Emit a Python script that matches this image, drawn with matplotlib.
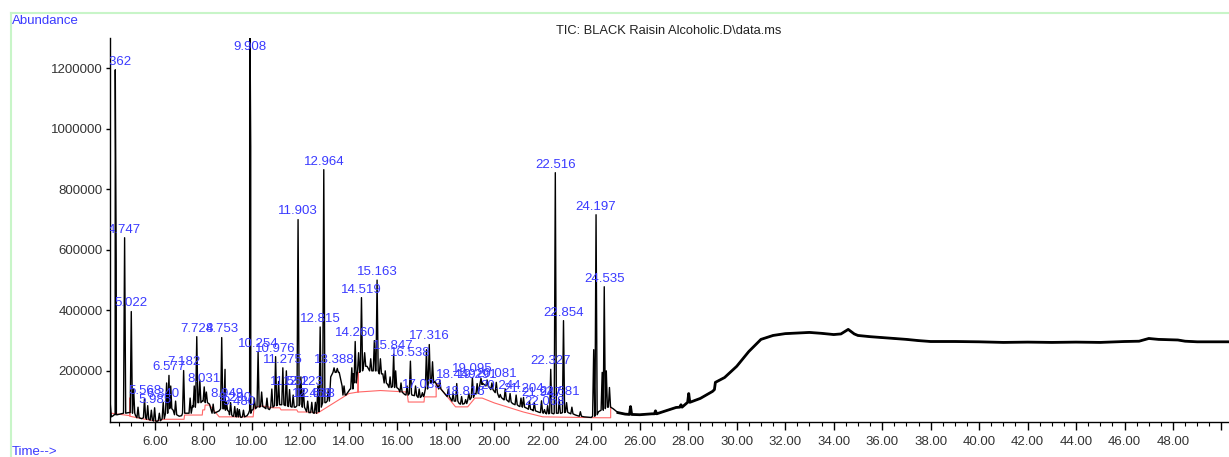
import numpy as np
import matplotlib
matplotlib.use('Agg')
import matplotlib.pyplot as plt
from matplotlib.ticker import MultipleLocator, FuncFormatter, FormatStrFormatter

plt.rcParams['font.family'] = ['Liberation Sans', 'DejaVu Sans']

title = 'TIC: BLACK Raisin Alcoholic.D\\data.ms'

# labelled peaks: retention time, apex abundance, level at the foot
peak_rt = [4.362, 4.747, 5.022, 5.568, 5.985, 6.340, 6.577, 7.182, 7.724, 8.031,
           8.753, 8.949, 9.290, 9.480, 9.908, 10.254, 10.976, 11.275, 11.552, 11.903,
           12.123, 12.469, 12.618, 12.815, 12.964, 13.388, 14.260, 14.519, 15.163, 15.847,
           16.538, 17.033, 17.316, 18.449, 18.816, 19.095, 19.291, 20.081, 20.244, 21.204,
           21.947, 22.068, 22.327, 22.516, 22.681, 22.854, 24.197, 24.535]
peak_top = [1195000, 640000, 396000, 108000, 78000, 96000, 185000, 201000, 313000, 147000,
            310000, 96000, 82000, 72000, 1500000, 262000, 247000, 210000, 138000, 700000,
            138000, 96000, 96000, 345000, 865000, 210000, 297000, 442000, 500000, 255000,
            232000, 128000, 287000, 158000, 105000, 178000, 158000, 162000, 122000, 112000,
            101000, 72000, 205000, 855000, 105000, 366000, 716000, 478000]
peak_foot = [55000, 60000, 62000, 45000, 34000, 42000, 80000, 60000, 95000, 100000,
             75000, 70000, 50000, 48000, 60000, 80000, 85000, 88000, 82000, 85000,
             80000, 62000, 60000, 80000, 95000, 195000, 160000, 200000, 200000, 150000,
             125000, 115000, 160000, 100000, 92000, 112000, 125000, 128000, 112000, 80000,
             62000, 60000, 60000, 60000, 60000, 62000, 55000, 75000]

# unlabelled small peaks
minor_rt = [4.40, 5.12, 5.30, 5.70, 5.85, 6.18, 6.48, 6.65, 6.85, 7.45, 7.62, 7.85,
            8.12, 8.40, 8.89, 9.12, 9.40, 9.65, 9.95, 10.10, 10.40, 10.62, 10.82, 11.10,
            11.42, 11.70, 12.02, 12.30, 12.72, 13.15, 13.52, 13.80, 14.12, 14.40, 14.65,
            14.90, 15.05, 15.30, 15.50, 15.70, 15.93, 16.15, 16.40, 16.75, 16.90, 17.20,
            17.45, 17.75, 18.10, 18.30, 18.65, 18.95, 19.45, 19.70, 19.90, 20.45, 20.65,
            20.90, 21.10, 21.45, 21.65, 22.20, 22.98, 23.20, 23.55, 24.10, 24.45, 24.62,
            24.75, 25.62, 26.65, 27.70, 28.02]
minor_top = [560000, 140000, 80000, 85000, 70000, 60000, 160000, 150000, 100000, 110000,
             150000, 170000, 130000, 90000, 205000, 95000, 75000, 70000, 940000, 110000,
             130000, 110000, 140000, 165000, 200000, 120000, 180000, 100000, 150000, 140000,
             208000, 150000, 210000, 260000, 260000, 240000, 300000, 240000, 200000, 180000,
             200000, 160000, 150000, 150000, 140000, 270000, 230000, 170000, 140000, 125000,
             115000, 125000, 175000, 170000, 160000, 140000, 125000, 120000, 110000, 100000,
             95000, 85000, 95000, 80000, 65000, 270000, 195000, 200000, 145000, 82000,
             68000, 88000, 125000]
minor_foot = [55000, 60000, 45000, 40000, 37000, 35000, 60000, 75000, 55000, 60000,
              80000, 95000, 95000, 60000, 75000, 55000, 48000, 48000, 70000, 75000,
              82000, 75000, 80000, 88000, 85000, 80000, 90000, 65000, 65000, 100000,
              195000, 120000, 140000, 195000, 215000, 200000, 200000, 190000, 160000, 145000,
              145000, 130000, 120000, 118000, 112000, 140000, 160000, 140000, 115000, 100000,
              90000, 105000, 155000, 150000, 138000, 105000, 97000, 88000, 82000, 73000,
              68000, 58000, 64000, 58000, 50000, 50000, 70000, 80000, 80000, 56000,
              58000, 80000, 96000]

# slow background of the trace
env_t = [4.144, 4.20, 4.28, 4.60, 4.90, 5.20, 5.45, 5.95, 6.08, 6.30, 6.75, 7.00, 7.10,
         7.35, 7.55, 7.95, 8.25, 8.50, 8.65, 9.05, 9.20, 9.55, 9.80, 10.05, 10.50, 10.72,
         11.00, 11.40, 11.80, 12.05, 12.35, 12.55, 12.70, 13.05, 13.25, 13.60, 13.72, 13.88,
         14.05, 14.18, 14.35, 14.75, 14.95, 15.40, 15.60, 15.80, 16.05, 16.30, 16.60, 16.85,
         17.10, 17.55, 17.70, 18.00, 18.25, 18.55, 18.90, 19.20, 19.50, 19.80, 20.15, 20.40,
         20.75, 21.00, 21.35, 21.60, 21.85, 22.15, 22.45, 22.75, 23.05, 23.35, 23.70, 24.00,
         24.30, 24.90, 25.10, 25.40, 26.00, 26.50, 27.00, 27.50, 28.20, 28.50, 29.00, 29.08,
         29.12, 29.50, 30.00, 30.50, 31.00, 31.50, 32.00, 32.50, 33.00, 33.50, 34.00, 34.30,
         34.60, 34.85, 35.00, 35.50, 36.00, 36.50, 37.00, 37.50, 38.00, 39.00, 40.00, 41.00,
         42.00, 43.00, 44.00, 45.00, 46.00, 46.60, 47.00, 47.40, 47.80, 48.20, 48.50, 49.00,
         50.31]
env_y = [102000, 48000, 52000, 58000, 62000, 52000, 42000, 35000, 33000, 42000, 70000, 50000, 52000,
         60000, 85000, 100000, 90000, 62000, 68000, 65000, 50000, 46000, 52000, 72000, 80000, 72000,
         84000, 85000, 80000, 85000, 62000, 60000, 66000, 95000, 180000, 195000, 150000, 120000,
         140000, 190000, 195000, 215000, 200000, 190000, 155000, 148000, 140000, 122000, 120000, 112000,
         118000, 165000, 142000, 120000, 100000, 92000, 102000, 125000, 160000, 145000, 122000, 104000,
         92000, 84000, 76000, 70000, 63000, 58000, 58000, 60000, 62000, 54000, 48000, 46000,
         65000, 75000, 62000, 57000, 55000, 58000, 66000, 79000, 100000, 109000, 132000, 138000,
         162000, 178000, 215000, 264000, 304000, 317000, 323000, 325000, 327000, 324000, 320000, 322000,
         337000, 322000, 317000, 313000, 310000, 307000, 304000, 300000, 297000, 297000, 296000, 294000,
         295000, 294000, 295000, 294000, 297000, 298000, 307000, 304000, 303000, 302000, 298000, 296000,
         296000]

# red integration baseline
base_t = [4.20, 4.96, 4.96, 4.96, 5.60, 6.05, 6.35, 7.20, 7.22, 7.95, 7.97, 8.05, 8.07, 8.25,
          8.65, 10.05, 10.07, 10.10, 10.45, 10.85, 11.15, 11.20, 11.85, 11.90, 12.45, 12.70,
          14.00, 14.38, 14.38, 14.38, 15.30, 16.40, 16.45, 17.10, 17.12, 17.60, 17.60, 18.40,
          18.90, 19.20, 19.50, 20.00, 21.20, 22.00, 24.35, 24.80, 24.80]
base_y = [60000, 52000, 110000, 50000, 40000, 34000, 40000, 40000, 54000, 54000, 71000, 71000,
          87000, 87000, 48000, 48000, 66000, 81000, 84000, 78000, 78000, 71000, 71000, 64000,
          64000, 60000, 125000, 130000, 195000, 130000, 135000, 130000, 97000, 97000, 114000,
          114000, 160000, 81000, 81000, 110000, 110000, 94000, 64000, 48000, 45000, 45000, 82000]

hw = 0.045
pk_t = np.concatenate([peak_rt, minor_rt])
pk_top = np.concatenate([peak_top, minor_top])
pk_foot = np.concatenate([peak_foot, minor_foot])

pts = []
for t, y in zip(env_t, env_y):
    if np.all(np.abs(pk_t - t) > hw):
        pts.append((t, y))
for t, top, foot in zip(pk_t, pk_top, pk_foot):
    pts += [(t - hw, foot), (t, top), (t + hw, foot)]
pts.sort()
trace_t = np.array([p[0] for p in pts])
trace_y = np.array([p[1] for p in pts])

blue = '#3a3aff'
fig = plt.figure(figsize=(12.29, 4.57), dpi=100)
ax = fig.add_axes([0.0895, 0.0766, 0.9105, 0.8402])

ax.plot(base_t, base_y, color='#ff4040', lw=0.8, alpha=0.8, zorder=2)
ax.plot(trace_t, trace_y, color='black', lw=1.0, zorder=3)
late = trace_t > 24.95
ax.plot(trace_t[late], trace_y[late], color='black', lw=2.0, zorder=3)

label_cap = 1245000
for t, top in zip(peak_rt, peak_top):
    ax.annotate(f'{t:.3f}', xy=(t, min(top, label_cap)), xytext=(0, 1.5),
                textcoords='offset points', ha='center', va='bottom',
                color=blue, fontsize=9.5, annotation_clip=False, clip_on=True, zorder=4)

ax.set_xlim(4.144, 50.31)
ax.set_ylim(31000, 1300000)
ax.set_yticks(np.arange(200000, 1200001, 200000))
ax.yaxis.set_major_formatter(FormatStrFormatter('%d'))
ax.xaxis.set_major_locator(MultipleLocator(2))
ax.xaxis.set_minor_locator(MultipleLocator(0.5))
ax.xaxis.set_major_formatter(FuncFormatter(lambda v, p: '' if v > 49 else f'{v:.2f}'))
ax.tick_params(axis='x', which='major', length=6, width=1, pad=4, labelsize=9.5, labelcolor='#333333')
ax.tick_params(axis='x', which='minor', length=3, width=0.8)
ax.tick_params(axis='y', length=3, width=1, pad=2, labelsize=9.5, labelcolor='#333333')
for s in ['top', 'right']:
    ax.spines[s].set_visible(False)
ax.spines['left'].set_linewidth(1)
ax.spines['bottom'].set_linewidth(1)
ax.patch.set_alpha(0)

# light green frame
green = '#c8f5c8'
fig.add_artist(plt.Line2D([0.009, 1.0], [0.9716, 0.9716], color=green, lw=1.5))
fig.add_artist(plt.Line2D([0.009, 0.009], [0.0, 0.9716], color=green, lw=1.5))

fig.text(0.0098, 0.954, 'Abundance', color=blue, fontsize=9.5, va='center', ha='left')
fig.text(0.0098, 0.011, 'Time-->', color=blue, fontsize=9.5, va='center', ha='left')
fig.text(0.4524, 0.932, title, color='#222222', fontsize=9.3, va='center', ha='left')

fig.savefig('out.png', dpi=100)
